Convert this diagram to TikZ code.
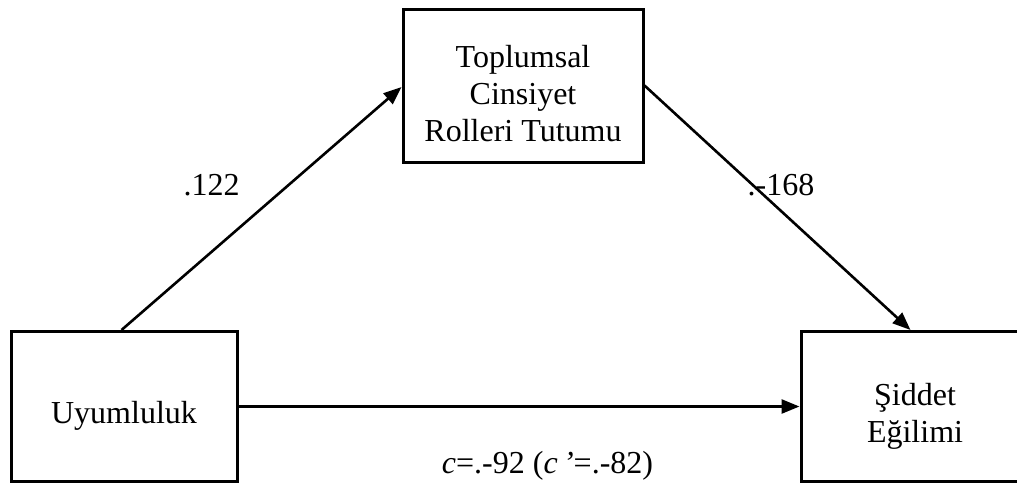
\documentclass[tikz,border=0pt]{standalone}
\usepackage{fontspec}
\setmainfont{Liberation Serif}
\usetikzlibrary{arrows.meta}
\begin{document}
\begin{tikzpicture}[x=1pt,y=-1pt,
  varbox/.style={draw=black,line width=3pt,inner sep=0pt,fill=white},
  boxtext/.style={align=center,font=\fontsize{32}{36.8}\selectfont,inner sep=0pt},
  lbl/.style={font=\fontsize{32}{36.8}\selectfont,inner sep=0pt},
  path/.style={draw=black,line width=2.6pt,-{Triangle[length=18pt,width=14pt]}}]
\clip (0,0) rectangle (1017,483);
\fill[white] (0,0) rectangle (1017,483);
% boxes
\node[varbox,minimum width=240pt,minimum height=153pt] (T) at (523,85.5) {};
\node[varbox,minimum width=226pt,minimum height=150pt] (L) at (124,406.5) {};
\node[varbox,minimum width=228pt,minimum height=150pt] (R) at (915,406.5) {};
% box texts
\node[boxtext] (Tt) at ([yshift=-8pt]T.center) {Toplumsal\\Cinsiyet\\Rolleri Tutumu};
\node[boxtext] (Lt) at ([yshift=-9pt]L.center) {Uyumluluk};
\node[boxtext] (Rt) at ([yshift=-10pt]R.center) {Şiddet\\Eğilimi};
% connectors
\coordinate (s1) at ([xshift=112pt]L.north west);
\coordinate (e2) at ([xshift=111pt]R.north west);
\draw[path] (s1) -- ([yshift=-1.5pt]T.west);
\draw[path] (T.east) -- (e2);
\draw[path] (L.east) -- (R.west);
% labels
\node[lbl] (l1) at (211.5,185) {.122};
\node[lbl] (l2) at (781,185) {.-168};
\node[lbl] (l3) at (547.5,466) {\textit{c}=.-92 (\textit{c\,’}=.-82)};
\end{tikzpicture}
\end{document}
